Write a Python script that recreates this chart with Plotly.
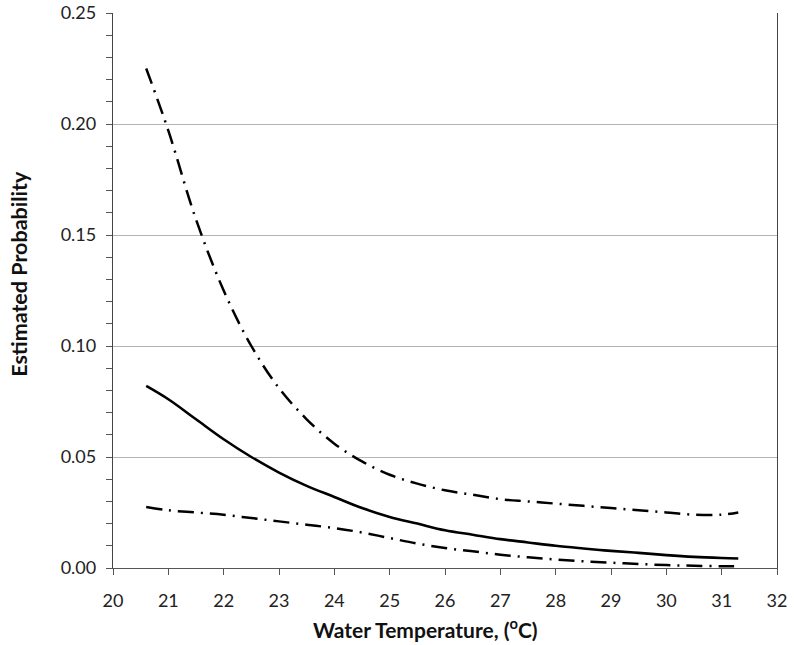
import plotly.graph_objects as go

temps = [20.6, 21.0, 21.5, 22.0, 22.5, 23.0, 23.5, 24.0, 24.5, 25.0, 25.5, 26.0,
         26.5, 27.0, 27.5, 28.0, 28.5, 29.0, 29.5, 30.0, 30.5, 31.0, 31.3]
estimate = [0.082, 0.076, 0.067, 0.058, 0.050, 0.043, 0.037, 0.032, 0.027, 0.023,
            0.020, 0.017, 0.015, 0.013, 0.0115, 0.010, 0.0088, 0.0077, 0.0068,
            0.0058, 0.0050, 0.0045, 0.0043]
upper = [0.225, 0.197, 0.157, 0.125, 0.100, 0.081, 0.067, 0.056, 0.048, 0.042,
         0.038, 0.035, 0.033, 0.031, 0.030, 0.029, 0.028, 0.027, 0.026, 0.025,
         0.024, 0.024, 0.025]
lower = [0.0275, 0.026, 0.025, 0.024, 0.0225, 0.021, 0.0195, 0.018, 0.016, 0.0135,
         0.011, 0.009, 0.0075, 0.006, 0.0048, 0.0038, 0.003, 0.0024, 0.0018,
         0.0013, 0.001, 0.0008, 0.0008]

x_title = "<b>Water Temperature, (<sup>o</sup>C)</b>"
y_title = "<b>Estimated Probability</b>"

dash = "16px,7px,2px,7px"
fig = go.Figure()
fig.add_trace(go.Scatter(x=temps, y=upper, mode="lines", line=dict(color="black", width=2.5, dash=dash, shape="spline")))
fig.add_trace(go.Scatter(x=temps, y=estimate, mode="lines", line=dict(color="black", width=2.6, shape="spline")))
fig.add_trace(go.Scatter(x=temps, y=lower, mode="lines", line=dict(color="black", width=2.5, dash=dash, shape="spline")))

font = "Lato, 'Open Sans', sans-serif"
fig.update_layout(
    width=794, height=645,
    margin=dict(l=113, r=17, t=13, b=77),
    paper_bgcolor="white", plot_bgcolor="white",
    showlegend=False,
    font=dict(family=font, size=18, color="#222"),
    xaxis=dict(range=[20, 32], dtick=1, tick0=20, showgrid=False, zeroline=False,
               showline=True, linecolor="#555", linewidth=1.3, automargin=False,
               ticks="outside", ticklen=6, tickcolor="#555", ticklabelstandoff=10),
    yaxis=dict(range=[0, 0.25], dtick=0.05, tickformat=".2f", showgrid=True,
               gridcolor="#b4b4b4", gridwidth=1, zeroline=False, automargin=False,
               showline=True, linecolor="#444", linewidth=1.3, mirror=True,
               ticks="outside", ticklen=6, tickcolor="#555", ticklabelstandoff=6,
               minor=dict(dtick=0.01, ticks="outside", ticklen=6, tickcolor="#555", showgrid=False)),
    annotations=[
        dict(text=x_title, xref="paper", yref="paper", x=0.47, y=-0.108,
             xanchor="center", yanchor="middle", showarrow=False,
             font=dict(size=21, color="#111")),
        dict(text=y_title, xref="paper", yref="paper", x=-0.1416, y=0.53,
             xanchor="center", yanchor="middle", textangle=-90, showarrow=False,
             font=dict(size=21.5, color="#111")),
    ],
)
fig.write_html("out.html", config={"displayModeBar": False},
               post_script="document.body.style.margin='0px';document.body.style.overflow='hidden';")
